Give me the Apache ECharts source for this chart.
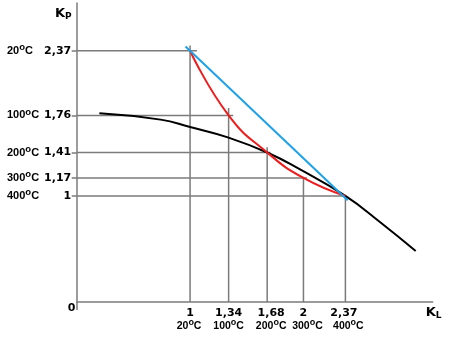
<!DOCTYPE html>
<html>
<head>
<meta charset="utf-8">
<script src="https://cdn.jsdelivr.net/npm/echarts@6/dist/echarts.min.js"></script>
<style>
html,body{margin:0;padding:0;background:#fff;}
#c{width:451px;height:342px;}
</style>
</head>
<body>
<div id="c"></div>
<script>
// ---- data ----
const KL = [1, 1.34, 1.68, 2, 2.37];            // K_L tick values
const KP = [2.37, 1.76, 1.41, 1.17, 1];         // K_P tick values
const KL_LABELS = ['1', '1,34', '1,68', '2', '2,37'];
const KP_LABELS = ['2,37', '1,76', '1,41', '1,17', '1'];
const TEMPS = ['20', '100', '200', '300', '400']; // °C for each point
// red curve (K_P vs K_L)
const redX = [1, 1.34, 1.68, 2, 2.37];
const redY = [2.37, 1.76, 1.41, 1.17, 1];
// black curve
const blackX = [0.2, 0.74, 1.0, 1.34, 1.68, 1.97, 2.37, 2.68, 2.99];
const blackY = [1.78, 1.72, 1.65, 1.55, 1.41, 1.25, 1.0, 0.75, 0.48];
// blue straight line
const blueX = [0.96, 2.39];
const blueY = [2.41, 0.96];
// how far the gray guide lines overshoot the point
const hOver = [0.06, 0.04, 0.03, 0.03, 0];
const vOver = [0.05, 0.07, 0.05, 0.01, 0];

const GRAY = '#7b7b7b';
const NUMFONT = 'DejaVu Sans';
const TFONT = 'Liberation Sans';

function idx(arr, v) {
  for (let i = 0; i < arr.length; i++) if (Math.abs(arr[i] - v) < 1e-6) return i;
  return -1;
}
const zip = (xs, ys) => xs.map((x, i) => [x, ys[i]]);

const guideSeries = [];
KL.forEach((x, i) => {
  const y = KP[i];
  guideSeries.push({
    type: 'line', data: [[0, y], [x + hOver[i], y]], symbol: 'none', silent: true,
    lineStyle: { color: GRAY, width: 1.5 }, z: 1
  });
  guideSeries.push({
    type: 'line', data: [[x, y + vOver[i]], [x, 0]], symbol: 'none', silent: true,
    lineStyle: { color: GRAY, width: 1.5 }, z: 1
  });
});

const yTempRich = {
  t: { fontFamily: TFONT, fontWeight: 'bold', fontSize: 11, color: '#000', lineHeight: 13 },
  s: { fontFamily: TFONT, fontWeight: 'bold', fontSize: 9.5, color: '#000', lineHeight: 10, padding: [0, 0, 7, 0] }
};
const xTempT = { fontFamily: TFONT, fontWeight: 'bold', fontSize: 10.5, color: '#000', lineHeight: 13 };
const xTempS = { fontFamily: TFONT, fontWeight: 'bold', fontSize: 9, color: '#000', lineHeight: 10, padding: [0, 0, 7, 0] };

const xNumPad = [[0,0,0,0],[0,0,0,0],[0,0,0,8],[0,0,0,0],[0,3,0,0]];
const xTmpPadL = [0, 0, 8, 8, 6];   // left padding on the digits
const xTmpPadR = [2, 0, 0, 0, 0];   // right padding after the "C"
const xRich = { };
for (let i = 0; i < 5; i++) {
  xRich['n' + i] = { fontFamily: NUMFONT, fontWeight: 'bold', fontSize: 11, color: '#000', lineHeight: 13, padding: xNumPad[i] };
  xRich['t' + i] = Object.assign({}, xTempT, { padding: [0, 0, 0, xTmpPadL[i]] });
  xRich['s' + i] = xTempS;
  xRich['c' + i] = Object.assign({}, xTempT, { padding: [0, xTmpPadR[i], 0, 0] });
}

const chart = echarts.init(document.getElementById('c'), null, { renderer: 'canvas' });
chart.setOption({
  animation: false,
  backgroundColor: '#fff',
  grid: { left: 76.7, right: 18.3, top: 3, bottom: 32.6, containLabel: false },
  xAxis: {
    type: 'value', min: 0, max: 3.14,
    splitLine: { show: false },
    axisLine: { show: true, onZero: true, lineStyle: { color: GRAY, width: 1.5 } },
    axisTick: { show: false },
    axisLabel: {
      show: true, customValues: KL, margin: -2.5, hideOverlap: false,
      showMinLabel: true, showMaxLabel: true,
      formatter: v => {
        const i = idx(KL, v);
        if (i < 0) return '';
        return '{n' + i + '|' + KL_LABELS[i] + '}\n{t' + i + '|' + TEMPS[i] + '}{s' + i + '|o}{c' + i + '|C}';
      },
      rich: xRich
    },
    name: '{k|K}{l|L}', nameLocation: 'end', nameGap: -7,
    nameTextStyle: {
      verticalAlign: 'top', align: 'left', padding: [3, 0, 0, 0],
      rich: {
        k: { fontFamily: NUMFONT, fontWeight: 'bold', fontSize: 13, color: '#000', lineHeight: 15 },
        l: { fontFamily: NUMFONT, fontWeight: 'bold', fontSize: 9, color: '#000', lineHeight: 9, verticalAlign: 'bottom' }
      }
    }
  },
  yAxis: [{
    type: 'value', min: -0.07, max: 2.82,
    splitLine: { show: false },
    axisLine: { show: true, onZero: false, lineStyle: { color: GRAY, width: 1.5 } },
    axisTick: { show: true, customValues: KP, length: 5, lineStyle: { color: GRAY, width: 1.5 } },
    axisLabel: {
      show: true, customValues: KP, margin: 5.5, align: 'right', hideOverlap: false,
      formatter: v => {
        const i = idx(KP, v);
        return i < 0 ? '' : '{v|' + KP_LABELS[i] + '}';
      },
      rich: { v: { fontFamily: NUMFONT, fontWeight: 'bold', fontSize: 11, color: '#000', lineHeight: 13 } }
    },
    name: '{k|K}{p|P}', nameLocation: 'end', nameGap: -3,
    nameTextStyle: {
      align: 'right', verticalAlign: 'top', padding: [0, 5, 0, 0],
      rich: {
        k: { fontFamily: NUMFONT, fontWeight: 'bold', fontSize: 13, color: '#000', lineHeight: 15 },
        p: { fontFamily: NUMFONT, fontWeight: 'bold', fontSize: 9, color: '#000', lineHeight: 9, verticalAlign: 'bottom' }
      }
    }
  }, {
    type: 'value', min: -0.07, max: 2.82, position: 'left',
    splitLine: { show: false },
    axisLine: { show: false }, axisTick: { show: false },
    axisLabel: {
      show: true, customValues: KP.concat([0]), margin: 69.7, align: 'left', hideOverlap: false,
      formatter: v => {
        if (Math.abs(v) < 1e-6) return '{z|0}';
        const i = idx(KP, v);
        if (i < 0) return '';
        return '{t|' + TEMPS[i] + '}{s|o}{t|C}';
      },
      rich: Object.assign({
        z: { fontFamily: NUMFONT, fontWeight: 'bold', fontSize: 11, color: '#000', lineHeight: 13, padding: [12, 0, 0, 60.7] }
      }, yTempRich)
    }
  }],
  series: guideSeries.concat([
    { type: 'line', data: zip(blackX, blackY), smooth: 0.5, symbol: 'none', lineStyle: { color: '#000', width: 2 }, z: 3 },
    { type: 'line', data: zip(redX, redY), smooth: 0.5, symbol: 'none', lineStyle: { color: '#ee1c1c', width: 2 }, z: 4 },
    { type: 'line', data: zip(blueX, blueY), symbol: 'none', lineStyle: { color: '#1ea1e6', width: 2 }, z: 5 }
  ])
});
</script>
</body>
</html>
